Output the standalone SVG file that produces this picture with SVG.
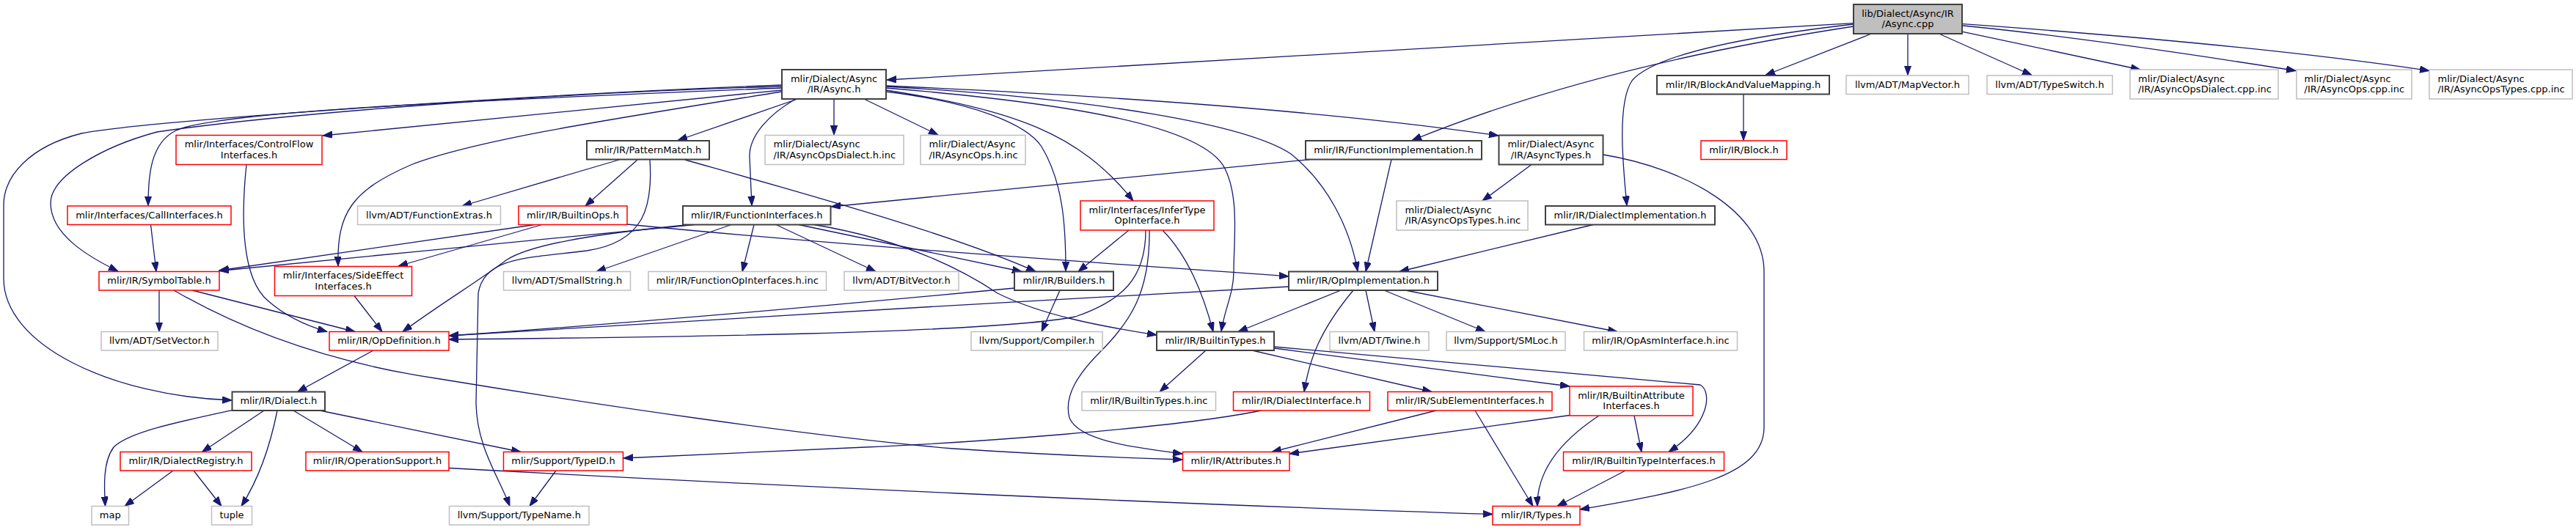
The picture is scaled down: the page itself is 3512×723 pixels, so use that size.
<svg xmlns="http://www.w3.org/2000/svg" width="3512" height="723" viewBox="0 0 3512 723">
<style>
text{font-family:"DejaVu Sans","Liberation Sans",sans-serif;font-size:13px;fill:#000;text-anchor:middle}
text.l{text-anchor:start}
rect{fill:#fff;stroke-width:1.5}
.b rect{stroke:#404040;stroke-width:2}
.r rect{stroke:#ff0000}
.g rect{stroke:#bfbfbf}
.root rect{fill:#bfbfbf;stroke:#404040;stroke-width:2}
#edges path{fill:none;stroke:#191970;stroke-width:1.3;marker-end:url(#a)}
</style>
<defs>
<marker id="a" markerUnits="userSpaceOnUse" markerWidth="14" markerHeight="10" refX="13" refY="4.7" orient="auto"><path d="M0,0 L13,4.7 L0,9.4 z" fill="#191970" stroke="#191970" stroke-width="1"/></marker>
</defs>
<rect x="0" y="0" width="3512" height="723" style="fill:#fff;stroke:none"/>
<g id="edges">
<path d="M2527,31.6 L1209,109"/>
<path d="M2551.5,46 L2407,102.5"/>
<path d="M2601,46 L2601,102.5"/>
<path d="M2643.5,46 L2770,102.5"/>
<path d="M2676,43.3 L2918,95"/>
<path d="M2676,35 C2800,47 2950,68 3130,96.5"/>
<path d="M2676,32.7 C2850,45 3100,65 3312,96.5"/>
<path d="M2527,36 C2330,66 2120,112 1925,191.5"/>
<path d="M2527,33 C2380,50 2255,75 2225,110 C2205,140 2212,220 2218,280.5"/>
<path d="M2377,128.5 L2377,191.5"/>
<path d="M1086,135.5 L924,191.5"/>
<path d="M1084,135.5 C1050,155 1020,185 1022,216 L1025,280.5"/>
<path d="M1137,135.5 L1137,184"/>
<path d="M1179,135.5 L1279,184"/>
<path d="M1066,123 L440,185"/>
<path d="M1066,120 C700,135 300,150 240,178 C205,195 202,240 202,280.5"/>
<path d="M1066,118 C700,128 350,160 214,180 C140,200 69,240 69,277 C69,320 120,350 161,370"/>
<path d="M1066,116 C700,130 200,165 111,182 C40,200 5,240 5,280 L5,380 C5,470 150,540 316,546"/>
<path d="M1066,125 C850,160 650,190 560,225 C480,260 459,290 461,363"/>
<path d="M1208,125 C1330,140 1400,170 1420,200 C1450,250 1453,310 1453,370"/>
<path d="M1208,123 C1380,150 1470,180 1545,274"/>
<path d="M1208,120 C1450,140 1640,170 1670,230 C1690,270 1682,330 1682,370 C1682,400 1670,420 1665,452"/>
<path d="M1208,118 C1500,135 1700,170 1760,210 C1810,250 1840,310 1851,370"/>
<path d="M1208,117 C1500,130 1800,150 2043,185"/>
<path d="M844,218 L630,281"/>
<path d="M869,218 L798,281"/>
<path d="M886,218 C890,280 880,330 800,342 C720,352 660,350 652,400 L649,550 C650,610 680,650 695,690.5"/>
<path d="M934,218 C1100,265 1300,320 1412,370.5"/>
<path d="M1786,217.5 L1133,282"/>
<path d="M1897,217.5 L1862,370.5"/>
<path d="M2172,306.5 L1908,370.5"/>
<path d="M2088,224.5 L2021,274"/>
<path d="M2186,211 C2300,230 2405,290 2405,370 L2405,583 C2405,650 2300,670 2154,695"/>
<path d="M336,224.5 C328,300 330,380 365,410 C390,432 420,445 446,452.5"/>
<path d="M205.5,306.5 L213,370.5"/>
<path d="M729,306.5 L298.5,369"/>
<path d="M947,306.5 C800,320 500,350 299,369.5"/>
<path d="M739,306.5 L543,363"/>
<path d="M855,306 C1150,335 1450,355 1757,377"/>
<path d="M940,306.5 C800,320 720,335 690,355 C650,385 600,415 549,452.5"/>
<path d="M997,306.5 L813,370.5"/>
<path d="M1028,306.5 L1012,370.5"/>
<path d="M1058,306.5 L1194,370.5"/>
<path d="M1089,306.5 L1393,370.5"/>
<path d="M1110,306.5 C1220,325 1300,360 1360,400 C1420,430 1500,445 1577,457"/>
<path d="M1539,314 L1470,370.5"/>
<path d="M1562,314 C1562,380 1530,410 1466,432 C1350,455 900,460 612,463"/>
<path d="M1567,314 C1568,400 1540,440 1500,480 C1470,510 1450,540 1458,570 C1470,600 1540,610 1612,619"/>
<path d="M1585,314 C1620,350 1640,400 1654,452.5"/>
<path d="M217,396 L217,452.5"/>
<path d="M262,396 L484,452.5"/>
<path d="M237,396 C330,450 450,495 600,517 C800,550 1100,595 1300,612 C1450,622 1550,625 1612,627"/>
<path d="M483,403.5 L521,452.5"/>
<path d="M509,478 L405.5,534.5"/>
<path d="M1445,396 L1420,452.5"/>
<path d="M1383,393 C1100,420 800,445 612,458"/>
<path d="M1757,391 C1400,410 900,440 612,458"/>
<path d="M1828,396 L1688,452.5"/>
<path d="M1845,396 C1800,450 1785,490 1778,534.5"/>
<path d="M1862,396 L1874,452.5"/>
<path d="M1887,396 L2025,452.5"/>
<path d="M1916,396 L2205,452.5"/>
<path d="M1644,478 L1581,534.5"/>
<path d="M1707,478 L1952,534.5"/>
<path d="M1737,475 C1900,495 2050,515 2140,527"/>
<path d="M1737,473 L2318,525 C2335,535 2330,580 2275,616.5"/>
<path d="M1958,560 L1734,616.5"/>
<path d="M2011,560 L2090,690.5"/>
<path d="M2140,566.5 L1758,619"/>
<path d="M2180,567 C2130,600 2095,640 2096,690.5"/>
<path d="M2228,567 L2238,616.5"/>
<path d="M2216,642 L2123,690.5"/>
<path d="M1719,560 C1600,585 1300,605 1180,610 C1050,615 950,620 850,625"/>
<path d="M316.5,559.5 C240,576 175,590 155,610 C140,630 142,665 143.5,690.5"/>
<path d="M360,560 L275.5,616.5"/>
<path d="M378,560 C370,600 355,650 329,690.5"/>
<path d="M400,560 L494,616.5"/>
<path d="M436,560 L710,616.5"/>
<path d="M236,642 L170,690.5"/>
<path d="M264,642 L302,690.5"/>
<path d="M612,638.5 C1000,660 1600,688 2035,701.5"/>
<path d="M758,642 L722,690.5"/>
</g>
<g id="n0" class="root"><rect x="2527" y="6" width="148" height="40"/><text x="2601" y="22.5">lib/Dialect/Async/IR</text><text x="2601" y="37">/Async.cpp</text></g>
<g id="n1" class="b"><rect x="1066" y="95" width="142" height="40"/><text x="1137" y="111.5">mlir/Dialect/Async</text><text x="1137" y="126">/IR/Async.h</text></g>
<g id="n2" class="b"><rect x="2259" y="103" width="235" height="25.5"/><text x="2376.5" y="119.8">mlir/IR/BlockAndValueMapping.h</text></g>
<g id="n3" class="g"><rect x="2517" y="103" width="167" height="25.5"/><text x="2600.5" y="119.8">llvm/ADT/MapVector.h</text></g>
<g id="n4" class="g"><rect x="2709" y="103" width="171" height="25.5"/><text x="2794.5" y="119.8">llvm/ADT/TypeSwitch.h</text></g>
<g id="n5" class="g"><rect x="2904" y="95" width="202" height="40"/><text class="l" x="2915" y="111.5">mlir/Dialect/Async</text><text class="l" x="2915" y="126">/IR/AsyncOpsDialect.cpp.inc</text></g>
<g id="n6" class="g"><rect x="3131" y="95" width="157" height="40"/><text class="l" x="3141.5" y="111.5">mlir/Dialect/Async</text><text class="l" x="3141.5" y="126">/IR/AsyncOps.cpp.inc</text></g>
<g id="n7" class="g"><rect x="3312" y="95" width="195" height="40"/><text class="l" x="3323.5" y="111.5">mlir/Dialect/Async</text><text class="l" x="3323.5" y="126">/IR/AsyncOpsTypes.cpp.inc</text></g>
<g id="n8" class="b"><rect x="1780" y="192" width="240" height="25.5"/><text x="1900" y="208.8">mlir/IR/FunctionImplementation.h</text></g>
<g id="n9" class="b"><rect x="2107" y="281" width="231" height="25.5"/><text x="2222.5" y="297.8">mlir/IR/DialectImplementation.h</text></g>
<g id="n10" class="r"><rect x="2319" y="192" width="117" height="25.5"/><text x="2377.5" y="208.8">mlir/IR/Block.h</text></g>
<g id="n11" class="b"><rect x="2043.5" y="184.5" width="142" height="40"/><text x="2114.5" y="201">mlir/Dialect/Async</text><text x="2114.5" y="215.5">/IR/AsyncTypes.h</text></g>
<g id="n12" class="g"><rect x="1904" y="274" width="179" height="40"/><text class="l" x="1915.5" y="290.5">mlir/Dialect/Async</text><text class="l" x="1915.5" y="305">/IR/AsyncOpsTypes.h.inc</text></g>
<g id="n13" class="b"><rect x="800" y="192" width="167" height="25.5"/><text x="883.5" y="208.8">mlir/IR/PatternMatch.h</text></g>
<g id="n14" class="r"><rect x="240" y="184.5" width="199" height="40"/><text x="339.5" y="201">mlir/Interfaces/ControlFlow</text><text x="339.5" y="215.5">Interfaces.h</text></g>
<g id="n15" class="r"><rect x="92" y="281" width="223" height="25.5"/><text x="203.5" y="297.8">mlir/Interfaces/CallInterfaces.h</text></g>
<g id="n16" class="g"><rect x="487.5" y="281" width="195" height="25.5"/><text x="585" y="297.8">llvm/ADT/FunctionExtras.h</text></g>
<g id="n17" class="r"><rect x="707" y="281" width="148" height="25.5"/><text x="781" y="297.8">mlir/IR/BuiltinOps.h</text></g>
<g id="n18" class="b"><rect x="931" y="281" width="201.5" height="25.5"/><text x="1031.8" y="297.8">mlir/IR/FunctionInterfaces.h</text></g>
<g id="n19" class="g"><rect x="1043" y="184.5" width="189" height="40"/><text class="l" x="1054.5" y="201">mlir/Dialect/Async</text><text class="l" x="1054.5" y="215.5">/IR/AsyncOpsDialect.h.inc</text></g>
<g id="n20" class="g"><rect x="1255" y="184.5" width="143" height="40"/><text class="l" x="1266.5" y="201">mlir/Dialect/Async</text><text class="l" x="1266.5" y="215.5">/IR/AsyncOps.h.inc</text></g>
<g id="n21" class="r"><rect x="1473" y="274" width="182" height="40"/><text x="1564" y="290.5">mlir/Interfaces/InferType</text><text x="1564" y="305">OpInterface.h</text></g>
<g id="n22" class="r"><rect x="135" y="370.5" width="164" height="25.5"/><text x="217" y="387.3">mlir/IR/SymbolTable.h</text></g>
<g id="n23" class="r"><rect x="374.5" y="363.5" width="187" height="40"/><text x="468" y="380">mlir/Interfaces/SideEffect</text><text x="468" y="394.5">Interfaces.h</text></g>
<g id="n24" class="g"><rect x="686.5" y="370.5" width="173" height="25.5"/><text x="773" y="387.3">llvm/ADT/SmallString.h</text></g>
<g id="n25" class="g"><rect x="884" y="370.5" width="242.5" height="25.5"/><text x="1005.3" y="387.3">mlir/IR/FunctionOpInterfaces.h.inc</text></g>
<g id="n26" class="g"><rect x="1151" y="370.5" width="156" height="25.5"/><text x="1229" y="387.3">llvm/ADT/BitVector.h</text></g>
<g id="n27" class="b"><rect x="1383" y="370.5" width="135" height="25.5"/><text x="1450.5" y="387.3">mlir/IR/Builders.h</text></g>
<g id="n28" class="b"><rect x="1757" y="370.5" width="203" height="25.5"/><text x="1858.5" y="387.3">mlir/IR/OpImplementation.h</text></g>
<g id="n29" class="g"><rect x="138" y="452.5" width="159" height="25.5"/><text x="217.5" y="469.3">llvm/ADT/SetVector.h</text></g>
<g id="n30" class="r"><rect x="449" y="452.5" width="163" height="25.5"/><text x="530.5" y="469.3">mlir/IR/OpDefinition.h</text></g>
<g id="n31" class="g"><rect x="1324" y="452.5" width="179" height="25.5"/><text x="1413.5" y="469.3">llvm/Support/Compiler.h</text></g>
<g id="n32" class="b"><rect x="1577" y="452.5" width="160" height="25.5"/><text x="1657" y="469.3">mlir/IR/BuiltinTypes.h</text></g>
<g id="n33" class="g"><rect x="1813" y="452.5" width="135" height="25.5"/><text x="1880.5" y="469.3">llvm/ADT/Twine.h</text></g>
<g id="n34" class="g"><rect x="1972" y="452.5" width="162" height="25.5"/><text x="2053" y="469.3">llvm/Support/SMLoc.h</text></g>
<g id="n35" class="g"><rect x="2159.5" y="452.5" width="209" height="25.5"/><text x="2264" y="469.3">mlir/IR/OpAsmInterface.h.inc</text></g>
<g id="n36" class="b"><rect x="316.5" y="534.5" width="126.5" height="25.5"/><text x="379.8" y="551.3">mlir/IR/Dialect.h</text></g>
<g id="n37" class="g"><rect x="1475" y="534.5" width="182.5" height="25.5"/><text x="1566.3" y="551.3">mlir/IR/BuiltinTypes.h.inc</text></g>
<g id="n38" class="r"><rect x="1681.5" y="534.5" width="186" height="25.5"/><text x="1774.5" y="551.3">mlir/IR/DialectInterface.h</text></g>
<g id="n39" class="r"><rect x="1892" y="534.5" width="224" height="25.5"/><text x="2004" y="551.3">mlir/IR/SubElementInterfaces.h</text></g>
<g id="n40" class="r"><rect x="2140" y="527" width="168" height="40"/><text x="2224" y="543.5">mlir/IR/BuiltinAttribute</text><text x="2224" y="558">Interfaces.h</text></g>
<g id="n41" class="r"><rect x="164" y="616.5" width="179" height="25.5"/><text x="253.5" y="633.3">mlir/IR/DialectRegistry.h</text></g>
<g id="n42" class="r"><rect x="417" y="616.5" width="195" height="25.5"/><text x="514.5" y="633.3">mlir/IR/OperationSupport.h</text></g>
<g id="n43" class="r"><rect x="686.5" y="616.5" width="163" height="25.5"/><text x="768" y="633.3">mlir/Support/TypeID.h</text></g>
<g id="n44" class="r"><rect x="1612.5" y="616.5" width="145.5" height="25.5"/><text x="1685.3" y="633.3">mlir/IR/Attributes.h</text></g>
<g id="n45" class="r"><rect x="2131.5" y="616.5" width="219" height="25.5"/><text x="2241" y="633.3">mlir/IR/BuiltinTypeInterfaces.h</text></g>
<g id="n46" class="g"><rect x="125" y="690.5" width="50.5" height="25.5"/><text x="150.3" y="707.3">map</text></g>
<g id="n47" class="g"><rect x="288.5" y="690.5" width="55" height="25.5"/><text x="316" y="707.3">tuple</text></g>
<g id="n48" class="g"><rect x="612.5" y="690.5" width="190.5" height="25.5"/><text x="707.8" y="707.3">llvm/Support/TypeName.h</text></g>
<g id="n49" class="r"><rect x="2035" y="690.5" width="119" height="25.5"/><text x="2094.5" y="707.3">mlir/IR/Types.h</text></g>
</svg>
